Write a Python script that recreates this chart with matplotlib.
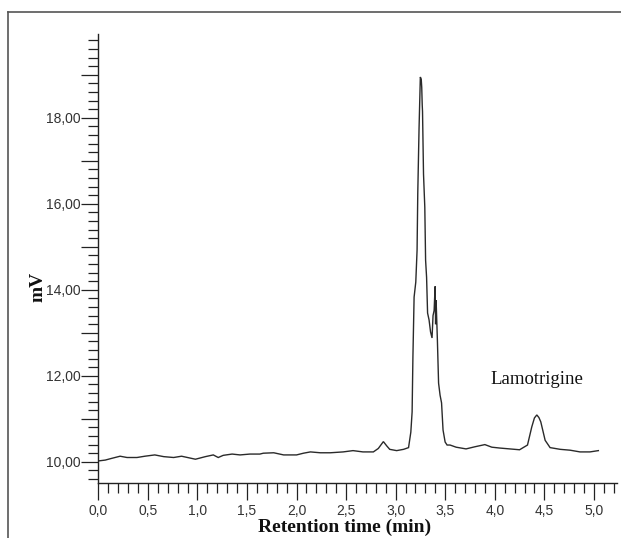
import matplotlib
matplotlib.use("Agg")
import matplotlib.pyplot as plt
from matplotlib.ticker import MultipleLocator, FuncFormatter
from matplotlib.lines import Line2D

# Chromatogram trace (retention time in min, signal in mV)
time_min = [0.00, 0.07, 0.135, 0.22, 0.29, 0.39, 0.47, 0.57, 0.66, 0.76, 0.84, 0.98,
            1.08, 1.16, 1.21, 1.26, 1.35, 1.43, 1.53, 1.63, 1.665, 1.77, 1.87, 2.00,
            2.07, 2.14, 2.24, 2.34, 2.47, 2.57, 2.67, 2.775, 2.825, 2.876, 2.91, 2.94,
            3.01, 3.08, 3.13,
            3.153, 3.166, 3.174, 3.186, 3.203, 3.216, 3.223, 3.236, 3.249, 3.258,
            3.263, 3.268, 3.271, 3.281, 3.294, 3.302, 3.312, 3.322, 3.337, 3.352, 3.367,
            3.377, 3.388, 3.398, 3.403, 3.408, 3.421, 3.433, 3.448, 3.463, 3.478, 3.499,
            3.519, 3.549, 3.61, 3.71, 3.80, 3.90, 3.97, 4.05, 4.15, 4.25, 4.33,
            4.373, 4.40, 4.424, 4.445, 4.464, 4.508, 4.558, 4.66, 4.76, 4.86, 4.96, 5.045]
signal_mv = [10.02, 10.04, 10.08, 10.13, 10.10, 10.10, 10.13, 10.16, 10.12, 10.10, 10.13, 10.06,
             10.12, 10.16, 10.10, 10.15, 10.18, 10.16, 10.18, 10.18, 10.20, 10.21, 10.16, 10.16,
             10.20, 10.23, 10.21, 10.21, 10.23, 10.26, 10.23, 10.23, 10.31, 10.47, 10.37, 10.29,
             10.26, 10.29, 10.33,
             10.69, 11.16, 12.43, 13.83, 14.18, 14.92, 16.24, 17.76, 18.95, 18.90,
             18.71, 18.30, 18.15, 16.69, 15.92, 14.69, 14.29, 13.46, 13.30, 13.02, 12.88,
             13.40, 13.52, 14.08, 13.20, 13.76, 12.83, 11.83, 11.55, 11.37, 10.74, 10.46,
             10.39, 10.39, 10.34, 10.30, 10.35, 10.40, 10.34, 10.32, 10.30, 10.28, 10.39,
             10.81, 11.02, 11.09, 11.03, 10.93, 10.50, 10.33, 10.29, 10.27, 10.23, 10.23, 10.26]

x_major_ticks = [0.0, 0.5, 1.0, 1.5, 2.0, 2.5, 3.0, 3.5, 4.0, 4.5, 5.0]
y_label_ticks = [10, 12, 14, 16, 18]
peak_label = "Lamotrigine"
peak_label_pos = (3.96, 11.92)

W, H = 621, 538
fig = plt.figure(figsize=(W / 100, H / 100), dpi=100)
fig.patch.set_facecolor("white")

ax = fig.add_axes([98.3 / W, (H - 483.3) / H, (616.7 - 98.3) / W, (483.3 - 34) / H])
ax.plot(time_min, signal_mv, color="#2a2a2a", lw=1.0, solid_joinstyle="miter")

ax.set_xlim(0, 5.23)
ax.set_ylim(9.5, 19.95)

for s in ("top", "right"):
    ax.spines[s].set_visible(False)
for s in ("left", "bottom"):
    ax.spines[s].set_color("#222222")
    ax.spines[s].set_linewidth(1.0)

ax.set_xticks(x_major_ticks)
ax.xaxis.set_minor_locator(MultipleLocator(0.1))
ax.xaxis.set_major_formatter(FuncFormatter(lambda v, p: f"{v:.1f}".replace(".", ",")))

ax.yaxis.set_major_locator(MultipleLocator(1.0))
ax.yaxis.set_minor_locator(MultipleLocator(0.2))
ax.yaxis.set_major_formatter(FuncFormatter(
    lambda v, p: (f"{v:.2f}".replace(".", ",") if round(v) in y_label_ticks and abs(v - round(v)) < 1e-6 else "")))

ax.tick_params(axis="both", which="major", direction="out", length=12.2, width=0.9,
               color="#222222", labelcolor="#333333", labelsize=10)
ax.tick_params(axis="both", which="minor", direction="out", length=7.0, width=0.9, color="#222222")
ax.tick_params(axis="x", which="major", pad=3)
ax.tick_params(axis="y", which="major", pad=0.5)
for lab in ax.get_xticklabels() + ax.get_yticklabels():
    lab.set_family("Liberation Sans")

ax.text(peak_label_pos[0], peak_label_pos[1], peak_label, family="Liberation Serif",
        fontsize=13.5, va="center", ha="left", color="#111111")

fig.text(345 / W, 1 - 527 / H, "Retention time (min)", family="Liberation Serif",
         fontweight="bold", fontsize=14, ha="center", va="center", color="#111111")
fig.text(38 / W, 1 - 287 / H, "mV", family="Liberation Serif", fontweight="bold",
         fontsize=14, rotation=90, ha="center", va="center", color="#111111")

# outer frame (left and top edges)
fig.add_artist(Line2D([8.3 / W, 8.3 / W], [0, 1 - 12.3 / H], transform=fig.transFigure,
                      color="#555555", lw=1.2))
fig.add_artist(Line2D([8.3 / W, 1], [1 - 12.3 / H, 1 - 12.3 / H], transform=fig.transFigure,
                      color="#555555", lw=1.2))

fig.savefig("out.png", dpi=100)
